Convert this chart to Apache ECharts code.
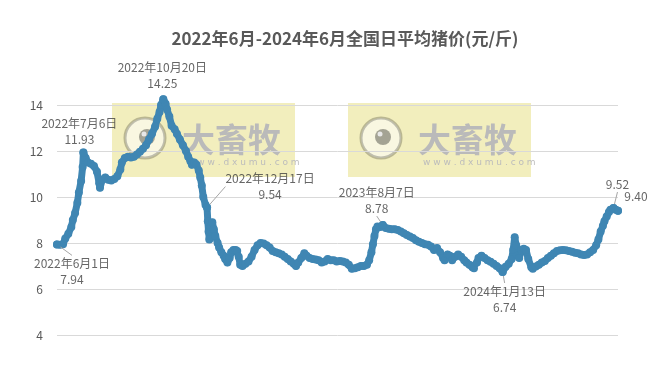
<!DOCTYPE html>
<html>
<head>
<meta charset="utf-8">
<script src="https://cdn.jsdelivr.net/npm/echarts@6/dist/echarts.min.js"></script>
<style>
  html, body { margin: 0; padding: 0; background: #fff; }
  #chart { width: 657px; height: 373px; }
</style>
</head>
<body>
<div id="chart"></div>
<script>
const TITLE = '2022年6月-2024年6月全国日平均猪价(元/斤)'

// days since 2022-06-01
const dayOffsets = [
  0, 4, 8, 11, 15, 19, 21, 24, 27, 29,
  32, 34, 35, 38, 41, 45, 49, 53, 56, 57,
  60, 64, 68, 72, 76, 80, 84, 86, 90, 94,
  98, 102, 106, 110, 114, 118, 122, 126, 130, 133,
  136, 138, 141, 144, 146, 149, 152, 156, 159, 163,
  167, 171, 174, 177, 179, 182, 185, 188, 190, 192,
  194, 197, 199, 200, 201, 202, 204, 206, 208, 210,
  213, 215, 218, 221, 223, 226, 229, 231, 234, 237,
  239, 241, 243, 246, 250, 254, 258, 262, 266, 270,
  274, 278, 282, 286, 290, 294, 298, 302, 306, 310,
  314, 317, 320, 324, 328, 331, 335, 339, 343, 347,
  351, 355, 359, 363, 367, 371, 375, 379, 383, 387,
  391, 395, 399, 403, 407, 411, 414, 417, 419, 421,
  423, 425, 429, 432, 436, 440, 444, 448, 452, 456,
  460, 464, 468, 472, 476, 480, 484, 488, 492, 496,
  500, 504, 508, 512, 514, 518, 521, 524, 528, 532,
  536, 540, 543, 547, 551, 553, 557, 559, 563, 567,
  571, 575, 579, 583, 587, 591, 595, 599, 603, 605,
  607, 609, 611, 613, 616, 619, 622, 625, 629, 631,
  635, 639, 643, 647, 651, 655, 659, 663, 667, 671,
  675, 679, 683, 687, 691, 695, 699, 703, 707, 711,
  715, 718, 721, 724, 726, 729, 732, 734, 738, 741,
  744
]
const prices = [
  7.94, 7.92, 7.95, 8.2, 8.4, 8.7, 9.0, 9.3, 9.75, 10.2,
  10.7, 11.3, 11.93, 11.7, 11.5, 11.45, 11.35, 11.1, 10.6, 10.4,
  10.75, 10.85, 10.75, 10.72, 10.78, 10.9, 11.2, 11.5, 11.7, 11.75,
  11.72, 11.75, 11.85, 11.97, 12.1, 12.25, 12.5, 12.75, 13.05, 13.4,
  13.7, 14.0, 14.25, 14.05, 13.8, 13.5, 13.1, 12.95, 12.75, 12.5,
  12.25, 12.0, 11.75, 11.55, 11.4, 11.5, 11.4, 11.15, 10.85, 10.5,
  10.0, 9.65, 9.54, 8.95, 8.5, 8.15, 8.7, 8.9, 8.6, 8.3,
  8.0, 7.8, 7.6, 7.45, 7.3, 7.15, 7.35, 7.6, 7.7, 7.7,
  7.65, 7.4, 7.05, 7.0, 7.1, 7.2, 7.4, 7.7, 7.9, 8.0,
  7.98, 7.9, 7.8, 7.65, 7.6, 7.55, 7.5, 7.4, 7.3, 7.2,
  7.1, 7.0, 7.15, 7.35, 7.55, 7.45, 7.35, 7.3, 7.28, 7.25,
  7.15, 7.2, 7.3, 7.25, 7.25, 7.2, 7.22, 7.2, 7.15, 7.05,
  6.88, 6.9, 6.95, 7.0, 7.0, 7.05, 7.25, 7.6, 7.95, 8.3,
  8.6, 8.72, 8.7, 8.78, 8.65, 8.62, 8.6, 8.6, 8.57, 8.5,
  8.42, 8.35, 8.28, 8.22, 8.12, 8.05, 8.0, 7.95, 7.92, 7.85,
  7.7, 7.78, 7.6, 7.35, 7.25, 7.5, 7.45, 7.25, 7.4, 7.5,
  7.4, 7.25, 7.15, 7.05, 6.95, 6.9, 7.15, 7.35, 7.45, 7.35,
  7.25, 7.18, 7.1, 7.0, 6.9, 6.74, 6.97, 7.1, 7.3, 7.7,
  8.25, 7.9, 7.45, 7.35, 7.7, 7.75, 7.7, 7.3, 6.95, 6.88,
  6.98, 7.05, 7.15, 7.22, 7.35, 7.45, 7.55, 7.65, 7.68, 7.7,
  7.68, 7.65, 7.62, 7.58, 7.55, 7.5, 7.48, 7.5, 7.6, 7.7,
  7.9, 8.15, 8.5, 8.75, 8.95, 9.15, 9.35, 9.45, 9.52, 9.45,
  9.40
]

// annotated points
const annoDays = [0, 35, 141, 199, 432, 591, 738, 744]
const annoPrices = [7.94, 11.93, 14.25, 9.54, 8.78, 6.74, 9.52, 9.40]
const annoDates = ['2022年6月1日', '2022年7月6日', '2022年10月20日', '2022年12月17日',
  '2023年8月7日', '2024年1月13日', '', '']
const annoLeader = [true, false, false, true, true, true, true, false]
const annoOffsets = [[15, 27], [-4, -21], [-1, -24], [63, -21], [-6, -25], [2, 27], [4, -24], [18, -14]]

const Y_TICKS = [4, 6, 8, 10, 12, 14]
const DOT_COLOR = '#3f86b3'

const chart = echarts.init(document.getElementById('chart'))

const mainData = dayOffsets.map((d, i) => [d, prices[i]])
const annoData = annoDays.map((d, i) => ({
  value: [d, annoPrices[i]],
  labelLine: { show: annoLeader[i] }
}))

function watermark(x, y) {
  return {
    type: 'group',
    x: x,
    y: y,
    z: 100,
    silent: true,
    children: [
      {
        type: 'rect',
        shape: { x: 0, y: 0, width: 183, height: 74 },
        style: { fill: '#f0ebaf', blend: 'multiply' }
      },
      {
        type: 'rect',
        shape: { x: 0, y: 0, width: 183, height: 74 },
        style: { fill: 'rgba(255,255,255,0.18)' }
      },
      {
        type: 'circle',
        shape: { cx: 33, cy: 35, r: 20 },
        style: { fill: 'rgba(255,255,255,0.55)' }
      },
      {
        type: 'circle',
        shape: { cx: 33, cy: 35, r: 20 },
        style: { fill: 'none', stroke: '#c4c4c4', lineWidth: 3, blend: 'multiply' }
      },
      {
        type: 'circle',
        shape: { cx: 35, cy: 34, r: 8 },
        style: { fill: '#a8a8a8', blend: 'multiply' }
      },
      {
        type: 'circle',
        shape: { cx: 32, cy: 31, r: 2.5 },
        style: { fill: '#e8e8e8' }
      },
      {
        type: 'text',
        x: 70,
        y: 36,
        style: {
          text: '大畜牧',
          font: 'bold 33px "Noto Sans CJK SC"',
          fill: '#bababa',
          textVerticalAlign: 'middle',
          blend: 'multiply'
        }
      },
      {
        type: 'text',
        x: 75,
        y: 60,
        style: {
          text: 'w w w . d x u m u . c o m',
          font: '9px "DejaVu Sans"',
          fill: '#bcbcbc',
          textVerticalAlign: 'middle',
          blend: 'multiply'
        }
      }
    ]
  }
}

chart.setOption({
  animation: false,
  backgroundColor: '#ffffff',
  title: {
    text: TITLE,
    left: 340,
    top: 25,
    textAlign: 'center',
    textStyle: {
      fontFamily: '"Noto Sans CJK SC"',
      fontSize: 17,
      fontWeight: 'bold',
      color: '#595959'
    }
  },
  grid: { left: 57, right: 39, top: 105, bottom: 38 },
  xAxis: {
    type: 'value',
    min: 0,
    max: 744,
    show: false
  },
  yAxis: {
    type: 'value',
    min: Y_TICKS[0],
    max: Y_TICKS[Y_TICKS.length - 1],
    interval: 2,
    axisLine: { show: false },
    axisTick: { show: false },
    axisLabel: {
      margin: 14,
      fontSize: 12,
      color: '#595959',
      fontFamily: '"Noto Sans CJK SC"'
    },
    splitLine: { lineStyle: { color: '#d9d9d9', width: 1 } }
  },
  series: [
    {
      type: 'line',
      data: mainData,
      clip: false,
      symbol: 'circle',
      symbolSize: 8,
      showAllSymbol: true,
      itemStyle: { color: DOT_COLOR },
      lineStyle: { color: DOT_COLOR, width: 7, cap: 'round', join: 'round' },
      z: 2
    },
    {
      type: 'scatter',
      data: annoData,
      clip: false,
      symbolSize: 8,
      itemStyle: { color: DOT_COLOR },
      z: 3,
      label: {
        show: true,
        position: 'inside',
        align: 'center',
        verticalAlign: 'middle',
        fontSize: 12,
        lineHeight: 16,
        fontFamily: '"Noto Sans CJK SC"',
        color: '#404040',
        formatter: (p) => {
          const date = annoDates[p.dataIndex]
          const v = annoPrices[p.dataIndex].toFixed(2)
          return date ? date + '\n' + v : v
        }
      },
      labelLine: {
        show: true,
        lineStyle: { color: '#a6a6a6', width: 1 }
      },
      labelLayout: (p) => {
        const o = annoOffsets[p.dataIndex]
        return { dx: o[0], dy: o[1], hideOverlap: false }
      }
    }
  ],
  graphic: [watermark(112, 103), watermark(348, 103)]
})
</script>
</body>
</html>
